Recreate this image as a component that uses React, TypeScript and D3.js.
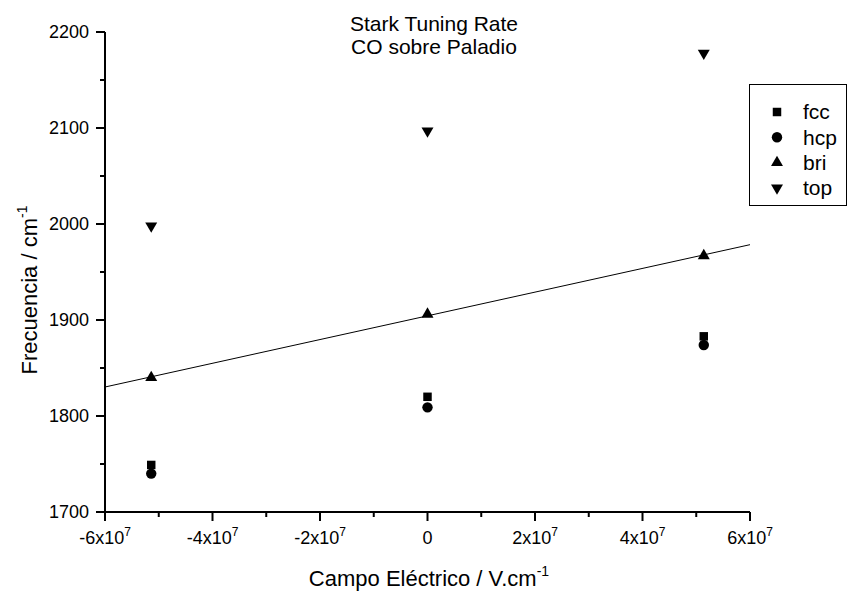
import React from "react";
import * as d3 from "d3";

// Electric field values (V/cm) and measured frequencies (cm^-1) per adsorption site
const fields = [-5.14e7, 0, 5.14e7];
const fcc = [1749, 1820, 1883];
const hcp = [1740, 1809, 1874];
const bri = [1840, 1906, 1967];
const top = [1998, 2097, 2178];

const xTicks = [-6e7, -4e7, -2e7, 0, 2e7, 4e7, 6e7];
const yTicks = [1700, 1800, 1900, 2000, 2100, 2200];

const W = 849;
const H = 592;
const FONT = "'Liberation Sans', Arial, Helvetica, sans-serif";

const x = d3.scaleLinear().domain([-6e7, 6e7]).range([105, 750]);
const y = d3.scaleLinear().domain([1700, 2200]).range([512, 32]);

type Series = { name: string; values: number[]; symbol: d3.SymbolType; size: number; rotate: number };
const series: Series[] = [
  { name: "fcc", values: fcc, symbol: d3.symbolSquare, size: 72, rotate: 0 },
  { name: "hcp", values: hcp, symbol: d3.symbolCircle, size: 85, rotate: 0 },
  { name: "bri", values: bri, symbol: d3.symbolTriangle, size: 62, rotate: 0 },
  { name: "top", values: top, symbol: d3.symbolTriangle, size: 62, rotate: 180 },
];

// Least-squares fit through the bridge-site points
function fit(xs: number[], ys: number[]) {
  const mx = d3.mean(xs)!;
  const my = d3.mean(ys)!;
  let num = 0;
  let den = 0;
  xs.forEach((v, i) => {
    num += (v - mx) * (ys[i] - my);
    den += (v - mx) * (v - mx);
  });
  const slope = num / den;
  return (v: number) => my + slope * (v - mx);
}
const briFit = fit(fields, bri);

function xLabel(v: number) {
  if (v === 0) return <tspan>0</tspan>;
  const m = v / 1e7;
  return (
    <>
      <tspan>{`${m}x10`}</tspan>
      <tspan dy={-8} fontSize={12}>7</tspan>
    </>
  );
}

export default function App() {
  const minorX = d3.range(-5e7, 6e7, 2e7);
  const minorY = d3.range(1750, 2200, 100);
  const [x0, x1] = x.domain();
  const line = d3.line<number>().x((d) => x(d)).y((d) => y(briFit(d)));

  return (
    <svg width={W} height={H} style={{ display: "block", position: "absolute", left: 0, top: 0 }} fontFamily={FONT}>
      <rect width={W} height={H} fill="#fff" />

      {/* title */}
      <text x={434} y={31} fontSize={21} textAnchor="middle">Stark Tuning Rate</text>
      <text x={434} y={54} fontSize={21} textAnchor="middle">CO sobre Paladio</text>

      {/* axes */}
      <line x1={105} x2={105} y1={32} y2={512} stroke="#000" strokeWidth={2} />
      <line x1={105} x2={750} y1={512} y2={512} stroke="#000" strokeWidth={2} />

      {yTicks.map((t) => (
        <g key={`y${t}`}>
          <line x1={96} x2={105} y1={y(t)} y2={y(t)} stroke="#000" strokeWidth={2} />
          <text x={89} y={y(t)} dy="0.35em" fontSize={18} textAnchor="end">{t}</text>
        </g>
      ))}
      {minorY.map((t) => (
        <line key={`my${t}`} x1={100} x2={105} y1={y(t)} y2={y(t)} stroke="#000" strokeWidth={2} />
      ))}
      {xTicks.map((t) => (
        <g key={`x${t}`}>
          <line x1={x(t)} x2={x(t)} y1={512} y2={521} stroke="#000" strokeWidth={2} />
          <text x={x(t)} y={544} fontSize={18} textAnchor="middle">{xLabel(t)}</text>
        </g>
      ))}
      {minorX.map((t) => (
        <line key={`mx${t}`} x1={x(t)} x2={x(t)} y1={512} y2={517} stroke="#000" strokeWidth={2} />
      ))}

      {/* axis titles */}
      <text x={429} y={586} fontSize={22} textAnchor="middle">
        <tspan>Campo Eléctrico / V.cm</tspan>
        <tspan dy={-10} fontSize={14}>-1</tspan>
      </text>
      <text transform="translate(37,290) rotate(-90)" fontSize={22} textAnchor="middle">
        <tspan>Frecuencia / cm</tspan>
        <tspan dy={-10} fontSize={14}>-1</tspan>
      </text>

      {/* linear fit */}
      <path d={line([x0, x1]) ?? ""} fill="none" stroke="#000" strokeWidth={1} />

      {/* points */}
      {series.map((s) =>
        s.values.map((v, i) => (
          <path
            key={`${s.name}${i}`}
            d={d3.symbol().type(s.symbol).size(s.size)() ?? ""}
            transform={`translate(${x(fields[i])},${y(v)}) rotate(${s.rotate})`}
            fill="#000"
          />
        ))
      )}

      {/* legend */}
      <rect x={749.5} y={84.5} width={97} height={121} fill="#fff" stroke="#000" strokeWidth={1} />
      {series.map((s, i) => (
        <g key={`lg${s.name}`} transform={`translate(0,${112 + i * 25.3})`}>
          <path
            d={d3.symbol().type(s.symbol).size(s.size)() ?? ""}
            transform={`translate(777,0) rotate(${s.rotate})`}
            fill="#000"
          />
          <text x={803} y={0} dy="0.35em" fontSize={21}>{s.name}</text>
        </g>
      ))}
    </svg>
  );
}
